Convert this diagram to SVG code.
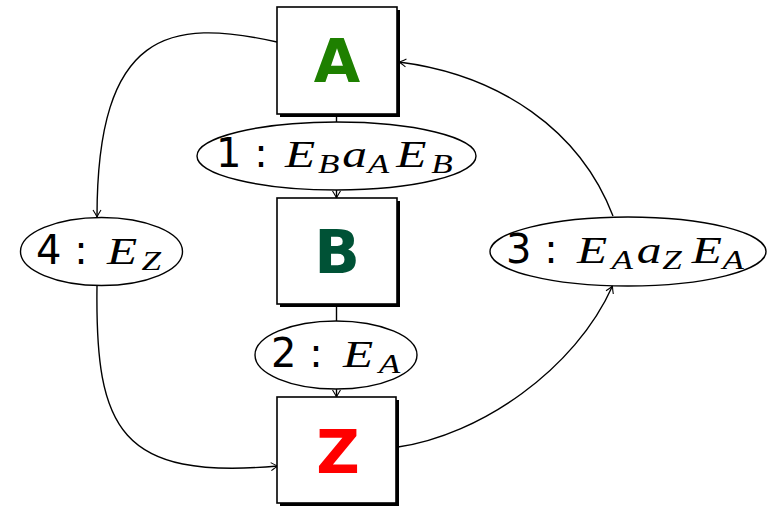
<svg xmlns="http://www.w3.org/2000/svg" width="772" height="506" viewBox="0 0 772 506">
<style>
.box{fill:#fff;stroke:#000;stroke-width:1.6}
.shadow{fill:#000}
.ell{fill:#fff;stroke:#000;stroke-width:1.4}
.big{font-family:"DejaVu Sans",sans-serif;font-weight:bold;font-size:60px;text-anchor:middle}
.lbl{font-family:"DejaVu Sans",sans-serif;font-size:40px}
.mt{font-family:"Liberation Serif",serif;font-style:italic}
.m{font-size:38px}
.s{font-size:27px}
.edge{fill:none;stroke:#000;stroke-width:1.4}
</style>
<defs>
<marker id="arr" markerUnits="userSpaceOnUse" markerWidth="14" markerHeight="12" viewBox="-8 -6 10 12" refX="0" refY="0" orient="auto">
<path d="M-7,-4 Q-2,-0.8 0,0 Q-2,0.8 -7,4" fill="none" stroke="#000" stroke-width="1.1"/>
</marker>
</defs>
<g id="connectors">
<line class="edge" x1="336.5" y1="114" x2="336.5" y2="122"/>
<line class="edge" x1="336.5" y1="190" x2="336.5" y2="198" marker-end="url(#arr)"/>
<line class="edge" x1="336.5" y1="305" x2="336.5" y2="321"/>
<line class="edge" x1="336.5" y1="389" x2="336.5" y2="397" marker-end="url(#arr)"/>
<path class="edge" d="M277,42 C170,18 97,30 97,217" marker-end="url(#arr)"/>
<path class="edge" d="M97,286 C95,430 120,480 278,466" marker-end="url(#arr)"/>
<path class="edge" d="M398,447 C480,435 575,370 612.5,286" marker-end="url(#arr)"/>
<path class="edge" d="M613,216 C580,130 500,75 399,62" marker-end="url(#arr)"/>
</g>
<g id="node-A">
<rect class="shadow" x="280" y="10" width="120" height="107"/>
<rect class="box" x="277" y="7" width="120" height="107"/>
<text class="big" x="337" y="82" fill="#1e8000">A</text>
</g>
<g id="node-B">
<rect class="shadow" x="280" y="201" width="120" height="106"/>
<rect class="box" x="277" y="198" width="120" height="106"/>
<text class="big" x="337" y="273" fill="#005236">B</text>
</g>
<g id="node-Z">
<rect class="shadow" x="280" y="400" width="119" height="106"/>
<rect class="box" x="277" y="397" width="119" height="106"/>
<text class="big" x="338" y="473" fill="#ff0000">Z</text>
</g>
<g id="label-1">
<ellipse class="ell" cx="336.5" cy="156" rx="139.5" ry="34"/>
<text class="lbl" x="216" y="167">1 :</text>
<text class="mt" transform="translate(285,167) scale(1.3,1)"><tspan class="m" x="0" y="0">E</tspan><tspan class="s" x="25.4" y="6">B</tspan><tspan class="m" x="44" y="0">a</tspan><tspan class="s" x="63.6" y="6">A</tspan><tspan class="m" x="85.6" y="0">E</tspan><tspan class="s" x="112.6" y="6">B</tspan></text>
</g>
<g id="label-2">
<ellipse class="ell" cx="336" cy="355" rx="81" ry="34"/>
<text class="lbl" x="271" y="367">2 :</text>
<text class="mt" transform="translate(343,367) scale(1.3,1)"><tspan class="m" x="0" y="0">E</tspan><tspan class="s" x="27.5" y="6">A</tspan></text>
</g>
<g id="label-3">
<ellipse class="ell" cx="628" cy="251.5" rx="138" ry="34.5"/>
<text class="lbl" x="506" y="263">3 :</text>
<text class="mt" transform="translate(577,263) scale(1.3,1)"><tspan class="m" x="0" y="0">E</tspan><tspan class="s" x="26.5" y="6">A</tspan><tspan class="m" x="46" y="0">a</tspan><tspan class="s" x="65.5" y="6">Z</tspan><tspan class="m" x="88.2" y="0">E</tspan><tspan class="s" x="112" y="6">A</tspan></text>
</g>
<g id="label-4">
<ellipse class="ell" cx="101.5" cy="251.5" rx="81" ry="34"/>
<text class="lbl" x="36" y="264">4 :</text>
<text class="mt" transform="translate(107,264) scale(1.3,1)"><tspan class="m" x="0" y="0">E</tspan><tspan class="s" x="26.5" y="6">Z</tspan></text>
</g>
</svg>
